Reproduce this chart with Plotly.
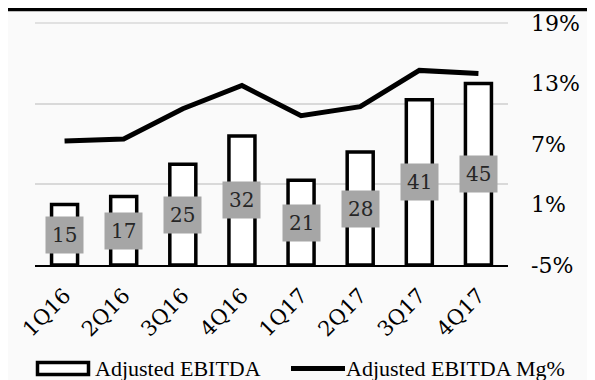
import plotly.graph_objects as go

quarters = ["1Q16", "2Q16", "3Q16", "4Q16", "1Q17", "2Q17", "3Q17", "4Q17"]
ebitda = [15, 17, 25, 32, 21, 28, 41, 45]
margin_pct = [7.3, 7.5, 10.5, 12.8, 9.8, 10.7, 14.3, 14.0]
right_tick_vals = [-5, 1, 7, 13, 19]
right_tick_text = ["-5%", "1%", "7%", "13%", "19%"]
legend_names = ["Adjusted EBITDA", "Adjusted EBITDA Mg%"]

# the page body adds an 8px offset; screen-space plot area is x 35..508, y 23..265
OFF = 8
W, H = 595, 380
ML, MT = 35 - OFF, 23 - OFF
PW, PH = 473, 242
MR = W - ML - PW
MB = H - MT - PH


def px2x(sx):
    return (sx - OFF - ML) / PW


def px2y(sy):
    return (MT + PH - (sy - OFF)) / PH


SERIF = "DejaVu Serif"
LEG = "Liberation Serif"

fig = go.Figure()
fig.add_trace(go.Bar(
    x=quarters, y=ebitda, width=0.44, name=legend_names[0],
    marker=dict(color="white", line=dict(color="black", width=3.5)),
    yaxis="y", showlegend=False, hoverinfo="skip"))
fig.add_trace(go.Scatter(
    x=quarters, y=margin_pct, mode="lines", name=legend_names[1],
    line=dict(color="black", width=5), yaxis="y2", showlegend=False))

for q, v in zip(quarters, ebitda):
    fig.add_annotation(x=q, y=v / 2, xref="x", yref="y", text=str(v),
                       showarrow=False, bgcolor="#a6a6a6", borderpad=6,
                       font=dict(family=SERIF, size=20, color="#262626"))

# top gridline (plot edge)
fig.add_shape(type="line", xref="paper", yref="paper", x0=0, x1=1, y0=1, y1=1,
              line=dict(color="#d9d9d9", width=1.5), layer="below")

# top rule
fig.add_shape(type="line", xref="paper", yref="paper",
              x0=px2x(8), x1=px2x(600), y0=px2y(9.5), y1=px2y(9.5),
              line=dict(color="black", width=3.5))

# manual legend
fig.add_shape(type="rect", xref="paper", yref="paper",
              x0=px2x(37.5), x1=px2x(88.5), y0=px2y(362.5), y1=px2y(374.5),
              fillcolor="white", line=dict(color="black", width=3.5))
fig.add_shape(type="line", xref="paper", yref="paper",
              x0=px2x(291), x1=px2x(345), y0=px2y(368.5), y1=px2y(368.5),
              line=dict(color="black", width=5))
fig.add_annotation(x=px2x(93), y=px2y(368), xref="paper", yref="paper",
                   text=legend_names[0], showarrow=False, xanchor="left", yanchor="middle",
                   font=dict(family=LEG, size=22, color="black"))
fig.add_annotation(x=px2x(344), y=px2y(368), xref="paper", yref="paper",
                   text=legend_names[1], showarrow=False, xanchor="left", yanchor="middle",
                   font=dict(family=LEG, size=22, color="black"))

fig.update_layout(
    width=W, height=H,
    margin=dict(l=ML, r=MR, t=MT, b=MB, autoexpand=False),
    paper_bgcolor="#fafafa", plot_bgcolor="#fafafa",
    xaxis=dict(tickangle=-45, tickfont=dict(family=SERIF, size=21, color="black"),
               showline=True, linecolor="black", linewidth=2, showgrid=False,
               ticks="", ticklabelstandoff=8, automargin=False),
    yaxis=dict(range=[0, 60], dtick=20, showgrid=True, gridcolor="#d9d9d9",
               gridwidth=1.5, showticklabels=False, zeroline=False, ticks="",
               automargin=False),
    yaxis2=dict(overlaying="y", side="right", range=[-5, 19],
                tickvals=right_tick_vals, ticktext=right_tick_text,
                showgrid=False, zeroline=False, ticks="", ticklabelstandoff=22,
                automargin=False,
                tickfont=dict(family=SERIF, size=22, color="black")),
)

fig.write_html("out.html")
